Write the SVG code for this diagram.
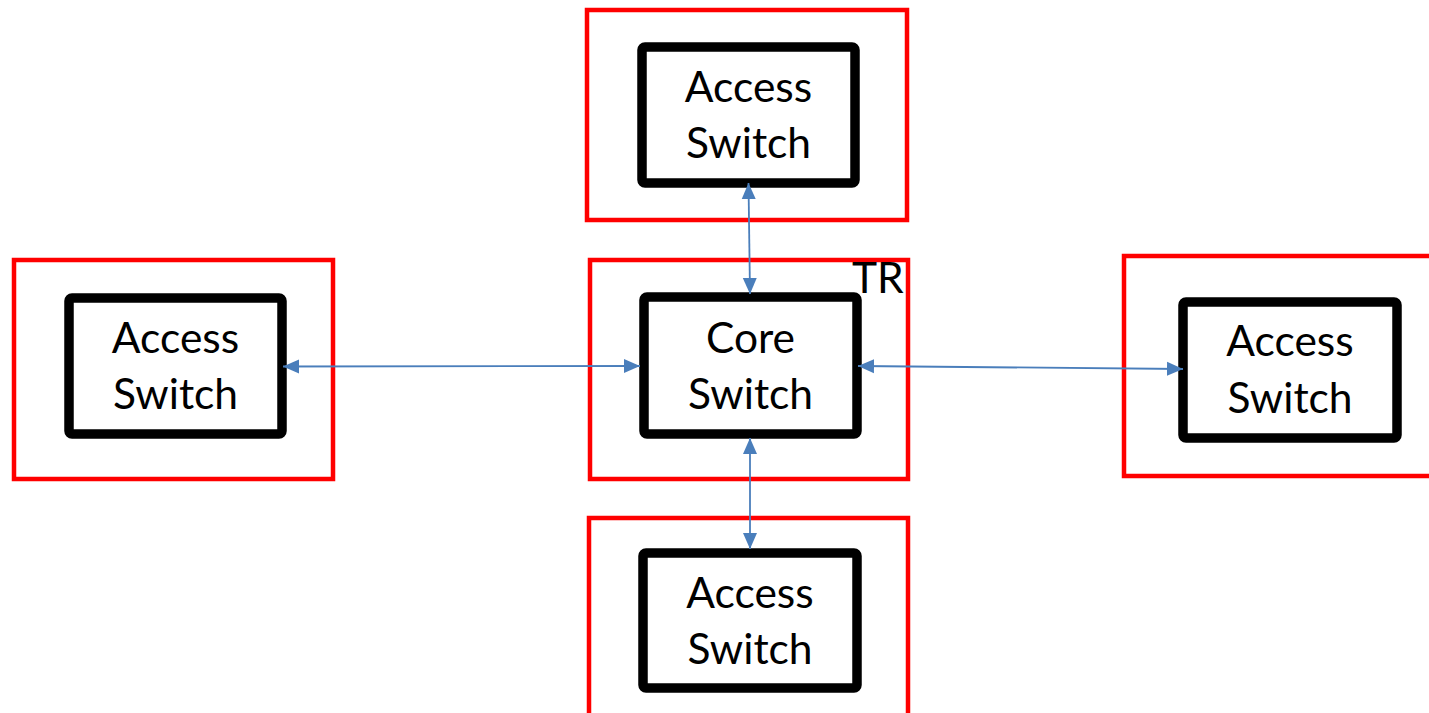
<svg xmlns="http://www.w3.org/2000/svg" width="1429" height="713" viewBox="0 0 1429 713">
  <style>
    .zone { fill: none; stroke: #FF0000; stroke-width: 4.5; }
    .switch { fill: #FFFFFF; stroke: #000000; stroke-width: 9.5; }
    .label { font-family: Lato, "Open Sans", sans-serif; font-size: 42.5px; fill: #000000; text-anchor: middle; }
    .tag { font-family: Lato, "Open Sans", sans-serif; font-size: 42.5px; fill: #000000; }
    .link { fill: none; stroke: #4A7EBB; stroke-width: 1.8; }
  </style>
  <defs>
    <marker id="arrow" viewBox="0 0 16 16" refX="16" refY="8" markerWidth="16" markerHeight="16" markerUnits="userSpaceOnUse" orient="auto-start-reverse">
      <path d="M0,1 L16,8 L0,15 Z" fill="#4A7EBB"/>
    </marker>
  </defs>
  <rect width="1429" height="713" fill="#FFFFFF"/>

  <g id="access-top">
    <rect class="zone" x="587" y="10" width="320" height="210"/>
    <rect class="switch" x="642" y="47" width="213" height="136" rx="3"/>
    <text class="label" x="748.5" y="102">Access</text>
    <text class="label" x="748.5" y="158">Switch</text>
  </g>

  <g id="core">
    <rect class="zone" x="590" y="260" width="318" height="219"/>
    <rect class="switch" x="644" y="297" width="213" height="137" rx="3"/>
    <text class="label" x="750.5" y="353">Core</text>
    <text class="label" x="750.5" y="409">Switch</text>
    <text class="tag" x="852" y="293">TR</text>
  </g>

  <g id="access-left">
    <rect class="zone" x="14" y="260" width="319" height="219"/>
    <rect class="switch" x="69" y="298" width="213" height="136" rx="3"/>
    <text class="label" x="175.5" y="353">Access</text>
    <text class="label" x="175.5" y="409">Switch</text>
  </g>

  <g id="access-right">
    <rect class="zone" x="1124" y="256" width="320" height="220"/>
    <rect class="switch" x="1183" y="302" width="214" height="136" rx="3"/>
    <text class="label" x="1290" y="356">Access</text>
    <text class="label" x="1290" y="413">Switch</text>
  </g>

  <g id="access-bottom">
    <rect class="zone" x="589" y="518" width="319" height="220"/>
    <rect class="switch" x="643" y="553" width="214" height="135" rx="3"/>
    <text class="label" x="750" y="608">Access</text>
    <text class="label" x="750" y="664">Switch</text>
  </g>

  <g id="connectors">
    <line class="link" x1="748.5" y1="183" x2="750" y2="294" marker-start="url(#arrow)" marker-end="url(#arrow)"/>
    <line class="link" x1="750" y1="438" x2="750" y2="549" marker-start="url(#arrow)" marker-end="url(#arrow)"/>
    <line class="link" x1="283" y1="366.5" x2="640" y2="366" marker-start="url(#arrow)" marker-end="url(#arrow)"/>
    <line class="link" x1="858" y1="366" x2="1183" y2="369" marker-start="url(#arrow)" marker-end="url(#arrow)"/>
  </g>
</svg>
